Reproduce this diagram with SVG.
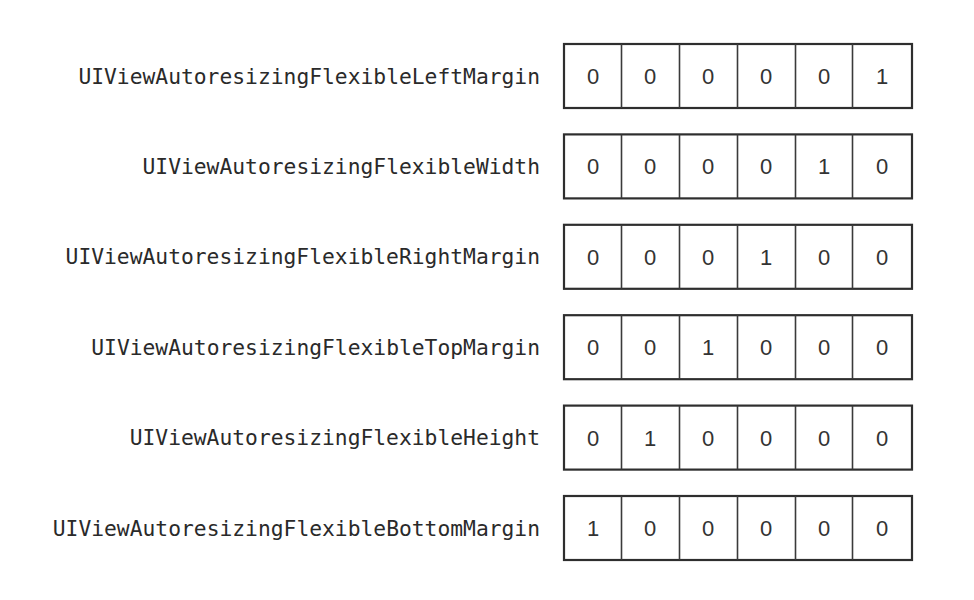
<svg xmlns="http://www.w3.org/2000/svg" width="974" height="600" viewBox="0 0 974 600">
<style>
.lbl{font-family:"DejaVu Sans Mono","Liberation Mono",monospace;font-size:21.3px;fill:#2a2a2a;text-anchor:end}
.box{fill:#fff;stroke:#2e2e2e;stroke-width:2.2}
.div{stroke:#3a3a3a;stroke-width:1.6}
.d{font-family:"Liberation Sans",Arial,sans-serif;font-size:22px;fill:#333;text-anchor:middle}
</style>
<rect width="974" height="600" fill="#fff"/>
<defs>
<g id="cells">
<rect class="box" x="564" y="0" width="348" height="64"/>
<line class="div" x1="621.5" y1="0" x2="621.5" y2="64"/>
<line class="div" x1="679.5" y1="0" x2="679.5" y2="64"/>
<line class="div" x1="737.5" y1="0" x2="737.5" y2="64"/>
<line class="div" x1="795.5" y1="0" x2="795.5" y2="64"/>
<line class="div" x1="852.5" y1="0" x2="852.5" y2="64"/>
</g>
</defs>
<g id="row1" transform="translate(0,44)">
<text class="lbl" x="540" y="39.5">UIViewAutoresizingFlexibleLeftMargin</text>
<use href="#cells"/>
<text class="d" x="593" y="40">0</text><text class="d" x="650" y="40">0</text><text class="d" x="708" y="40">0</text><text class="d" x="766" y="40">0</text><text class="d" x="824" y="40">0</text><text class="d" x="882" y="40">1</text>
</g>
<g id="row2" transform="translate(0,134.4)">
<text class="lbl" x="540" y="39.5">UIViewAutoresizingFlexibleWidth</text>
<use href="#cells"/>
<text class="d" x="593" y="40">0</text><text class="d" x="650" y="40">0</text><text class="d" x="708" y="40">0</text><text class="d" x="766" y="40">0</text><text class="d" x="824" y="40">1</text><text class="d" x="882" y="40">0</text>
</g>
<g id="row3" transform="translate(0,224.8)">
<text class="lbl" x="540" y="39.5">UIViewAutoresizingFlexibleRightMargin</text>
<use href="#cells"/>
<text class="d" x="593" y="40">0</text><text class="d" x="650" y="40">0</text><text class="d" x="708" y="40">0</text><text class="d" x="766" y="40">1</text><text class="d" x="824" y="40">0</text><text class="d" x="882" y="40">0</text>
</g>
<g id="row4" transform="translate(0,315.2)">
<text class="lbl" x="540" y="39.5">UIViewAutoresizingFlexibleTopMargin</text>
<use href="#cells"/>
<text class="d" x="593" y="40">0</text><text class="d" x="650" y="40">0</text><text class="d" x="708" y="40">1</text><text class="d" x="766" y="40">0</text><text class="d" x="824" y="40">0</text><text class="d" x="882" y="40">0</text>
</g>
<g id="row5" transform="translate(0,405.6)">
<text class="lbl" x="540" y="39.5">UIViewAutoresizingFlexibleHeight</text>
<use href="#cells"/>
<text class="d" x="593" y="40">0</text><text class="d" x="650" y="40">1</text><text class="d" x="708" y="40">0</text><text class="d" x="766" y="40">0</text><text class="d" x="824" y="40">0</text><text class="d" x="882" y="40">0</text>
</g>
<g id="row6" transform="translate(0,496)">
<text class="lbl" x="540" y="39.5">UIViewAutoresizingFlexibleBottomMargin</text>
<use href="#cells"/>
<text class="d" x="593" y="40">1</text><text class="d" x="650" y="40">0</text><text class="d" x="708" y="40">0</text><text class="d" x="766" y="40">0</text><text class="d" x="824" y="40">0</text><text class="d" x="882" y="40">0</text>
</g>
<g id="connectors"/>
</svg>
